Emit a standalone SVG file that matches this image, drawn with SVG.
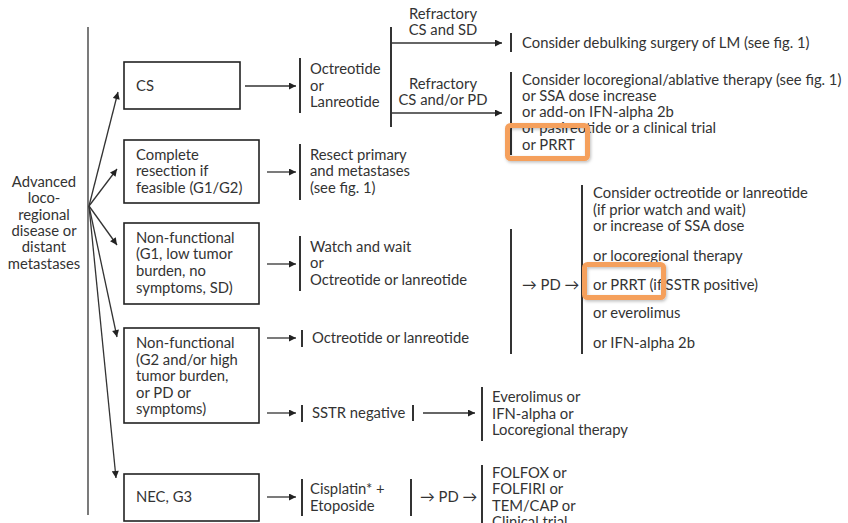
<svg xmlns="http://www.w3.org/2000/svg" width="848" height="523" viewBox="0 0 848 523">
<defs>
<marker id="ah" viewBox="0 0 10 10" refX="10" refY="5" markerWidth="10" markerHeight="7" markerUnits="userSpaceOnUse" orient="auto">
<path d="M0,0 L10,5 L0,10 z" fill="#222"/>
</marker>
<filter id="sh" x="-20%" y="-20%" width="140%" height="140%">
<feDropShadow dx="1" dy="1.5" stdDeviation="1.5" flood-color="#000" flood-opacity="0.25"/>
</filter>
</defs>
<style>
text{font-family:Lato,"Open Sans","Liberation Sans",sans-serif;font-size:14.8px;fill:#333}
.m{text-anchor:middle}
.box{fill:#fff;stroke:#222;stroke-width:1.6}
.bar{stroke:#333;stroke-width:2}
.ln{stroke:#333;stroke-width:1.3;fill:none}
.hl{fill:none;stroke:#F5A05C;stroke-width:5}
</style>
<rect width="848" height="523" fill="#fff"/>

<g id="start">
<line class="ln" x1="88" y1="27" x2="88" y2="515"/>
<text class="m" x="44"><tspan x="44" y="187">Advanced</tspan><tspan x="44" y="203">loco-</tspan><tspan x="44" y="220">regional</tspan><tspan x="44" y="236">disease or</tspan><tspan x="44" y="252">distant</tspan><tspan x="44" y="269">metastases</tspan></text>
</g>

<g id="connectors">
<line class="ln" x1="89" y1="206" x2="118" y2="92" marker-end="url(#ah)"/>
<line class="ln" x1="89" y1="206" x2="117" y2="169" marker-end="url(#ah)"/>
<line class="ln" x1="89" y1="206" x2="117" y2="245" marker-end="url(#ah)"/>
<line class="ln" x1="89" y1="206" x2="117" y2="337" marker-end="url(#ah)"/>
<line class="ln" x1="89" y1="206" x2="116" y2="478" marker-end="url(#ah)"/>
<line class="ln" x1="245" y1="86" x2="296" y2="86" marker-end="url(#ah)"/>
<line class="ln" x1="267" y1="172" x2="296" y2="172" marker-end="url(#ah)"/>
<line class="ln" x1="267" y1="264" x2="296" y2="264" marker-end="url(#ah)"/>
<line class="ln" x1="267" y1="338" x2="296" y2="338" marker-end="url(#ah)"/>
<line class="ln" x1="267" y1="413" x2="296" y2="413" marker-end="url(#ah)"/>
<line class="ln" x1="267" y1="497" x2="296" y2="497" marker-end="url(#ah)"/>
<line class="ln" x1="392" y1="43" x2="502" y2="43" marker-end="url(#ah)"/>
<line class="ln" x1="392" y1="113" x2="502" y2="113" marker-end="url(#ah)"/>
<line class="ln" x1="423" y1="413" x2="475" y2="413" marker-end="url(#ah)"/>
</g>

<g id="cs">
<rect class="box" x="124" y="62" width="116" height="47"/>
<text x="136" y="91">CS</text>
</g>
<g id="complete">
<rect class="box" x="124" y="140" width="135" height="63"/>
<text><tspan x="136" y="160">Complete</tspan><tspan x="136" y="176">resection if</tspan><tspan x="136" y="193">feasible (G1/G2)</tspan></text>
</g>
<g id="nf1">
<rect class="box" x="124" y="223" width="135" height="81"/>
<text><tspan x="136" y="243">Non-functional</tspan><tspan x="136" y="259">(G1, low tumor</tspan><tspan x="136" y="276">burden, no</tspan><tspan x="136" y="293">symptoms, SD)</tspan></text>
</g>
<g id="nf2">
<rect class="box" x="124" y="328" width="135" height="95"/>
<text><tspan x="136" y="348">Non-functional</tspan><tspan x="136" y="365">(G2 and/or high</tspan><tspan x="136" y="381">tumor burden,</tspan><tspan x="136" y="398">or PD or</tspan><tspan x="136" y="414">symptoms)</tspan></text>
</g>
<g id="nec">
<rect class="box" x="124" y="474" width="135" height="47"/>
<text x="136" y="502">NEC, G3</text>
</g>

<g id="octreo">
<line class="bar" x1="300" y1="58" x2="300" y2="113"/>
<text><tspan x="310" y="74">Octreotide</tspan><tspan x="310" y="91">or</tspan><tspan x="310" y="107">Lanreotide</tspan></text>
</g>
<g id="split">
<line class="bar" x1="391" y1="27" x2="391" y2="127"/>
<text class="m"><tspan x="443" y="19">Refractory</tspan><tspan x="443" y="35">CS and SD</tspan></text>
<text class="m"><tspan x="443" y="89">Refractory</tspan><tspan x="443" y="105">CS and/or PD</tspan></text>
</g>
<g id="debulk">
<line class="bar" x1="511" y1="33" x2="511" y2="52"/>
<text x="522" y="48">Consider debulking surgery of LM (see fig. 1)</text>
</g>
<g id="locoreg">
<line class="bar" x1="511" y1="72" x2="511" y2="155"/>
<text><tspan x="522" y="85">Consider locoregional/ablative therapy (see fig. 1)</tspan><tspan x="522" y="101">or SSA dose increase</tspan><tspan x="522" y="117">or add-on IFN-alpha 2b</tspan><tspan x="522" y="133">or pasireotide or a clinical trial</tspan><tspan x="522" y="150">or PRRT</tspan></text>
</g>
<g id="resect">
<line class="bar" x1="300" y1="144" x2="300" y2="200"/>
<text><tspan x="310" y="160">Resect primary</tspan><tspan x="310" y="176">and metastases</tspan><tspan x="310" y="193">(see fig. 1)</tspan></text>
</g>
<g id="watch">
<line class="bar" x1="300" y1="236" x2="300" y2="291"/>
<text><tspan x="310" y="252">Watch and wait</tspan><tspan x="310" y="268">or</tspan><tspan x="310" y="285">Octreotide or lanreotide</tspan></text>
</g>
<g id="octreo2">
<line class="bar" x1="302" y1="330" x2="302" y2="347"/>
<text x="312" y="343">Octreotide or lanreotide</text>
</g>
<g id="pd">
<line class="bar" x1="511" y1="229" x2="511" y2="354"/>
<text x="522" y="290">→ PD →</text>
</g>
<g id="pdlist">
<line class="bar" x1="582" y1="185" x2="582" y2="354"/>
<text><tspan x="593" y="198">Consider octreotide or lanreotide</tspan><tspan x="593" y="215">(if prior watch and wait)</tspan><tspan x="593" y="231">or increase of SSA dose</tspan><tspan x="593" y="261">or locoregional therapy</tspan><tspan x="593" y="290">or PRRT (if SSTR positive)</tspan><tspan x="593" y="318">or everolimus</tspan><tspan x="593" y="348">or IFN-alpha 2b</tspan></text>
</g>
<g id="sstr">
<line class="bar" x1="302" y1="405" x2="302" y2="422"/>
<text x="312" y="418">SSTR negative</text>
<line class="bar" x1="413" y1="405" x2="413" y2="421"/>
</g>
<g id="evero">
<line class="bar" x1="482" y1="387" x2="482" y2="441"/>
<text><tspan x="492" y="402">Everolimus or</tspan><tspan x="492" y="419">IFN-alpha or</tspan><tspan x="492" y="435">Locoregional therapy</tspan></text>
</g>
<g id="cispl">
<line class="bar" x1="302" y1="479" x2="302" y2="516"/>
<text><tspan x="310" y="494">Cisplatin* +</tspan><tspan x="310" y="511">Etoposide</tspan></text>
<line class="bar" x1="411" y1="479" x2="411" y2="516"/>
<text x="420" y="502">→ PD →</text>
</g>
<g id="folfox">
<line class="bar" x1="482" y1="465" x2="482" y2="523"/>
<text><tspan x="492" y="478">FOLFOX or</tspan><tspan x="492" y="494">FOLFIRI or</tspan><tspan x="492" y="511">TEM/CAP or</tspan><tspan x="492" y="527">Clinical trial</tspan></text>
</g>

<g id="highlights" filter="url(#sh)">
<rect class="hl" x="507.5" y="125.5" width="80" height="33" rx="3"/>
<rect class="hl" x="584.5" y="264.5" width="79" height="33" rx="3"/>
</g>
</svg>
